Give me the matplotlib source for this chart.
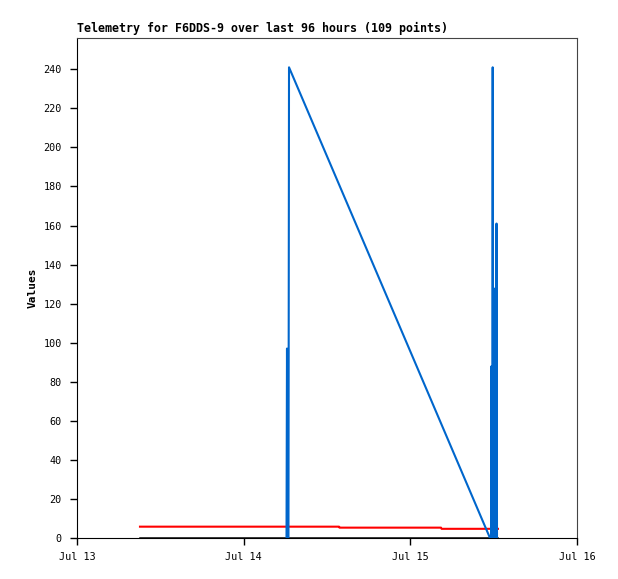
import datetime as dt
import matplotlib
matplotlib.use("Agg")
import matplotlib.pyplot as plt
import matplotlib.dates as mdates

# datos (horas desde Jul 13 00:00, valor)
inicio = dt.datetime(2024, 7, 13)

horas_azul = [30.17, 30.24, 30.32, 30.45, 30.53, 59.47, 59.62, 59.69, 59.76, 59.80, 59.86, 59.92,
              60.20, 60.26, 60.30, 60.36, 60.41, 60.48]
valores_azul = [0, 97, 0, 0, 241, 0, 0, 88, 0, 0, 241, 0,
                0, 128, 0, 0, 161, 0]

horas_rojo = [9.07, 37.73, 37.80, 52.42, 52.50, 60.62]
valores_rojo = [5.8, 5.8, 5.3, 5.3, 4.7, 4.7]

horas_negro = [9.07, 60.55]
valores_negro = [0, 0]

y_ticks = list(range(0, 241, 20))


def a_fecha(horas):
    return [inicio + dt.timedelta(hours=h) for h in horas]


plt.rcParams['font.family'] = ['DejaVu Sans Mono']

fig = plt.figure(figsize=(6.18, 5.79), dpi=100)
ax = fig.add_axes([77 / 618, 1 - 538 / 579, 500 / 618, 500 / 579])

ax.plot(a_fecha(horas_negro), valores_negro, color='black', lw=1.8, zorder=2)
ax.plot(a_fecha(horas_rojo), valores_rojo, color='#ff0000', lw=1.5, zorder=3)
ax.plot(a_fecha(horas_azul), valores_azul, color='#0066cc', lw=1.5, zorder=4,
        solid_joinstyle='round')

ax.set_xlim(inicio, inicio + dt.timedelta(days=3))
ax.set_ylim(0, 256)
ax.set_yticks(y_ticks)
ax.xaxis.set_major_locator(mdates.DayLocator())
ax.xaxis.set_major_formatter(mdates.DateFormatter('%b %d'))

ax.tick_params(direction='out', length=5, width=1, labelsize=7.3, color='black')
ax.tick_params(axis='y', pad=6)
ax.tick_params(axis='x', pad=5)
for lado in ['top', 'right']:
    ax.spines[lado].set_color('#444444')
for lado in ['left', 'bottom']:
    ax.spines[lado].set_color('black')

ax.set_ylabel('Values', fontsize=8, fontweight='bold', labelpad=4)
ax.set_title('Telemetry for F6DDS-9 over last 96 hours (109 points)',
             loc='left', fontsize=8.4, fontweight='bold', pad=4)

fig.savefig('out.png', dpi=100)
